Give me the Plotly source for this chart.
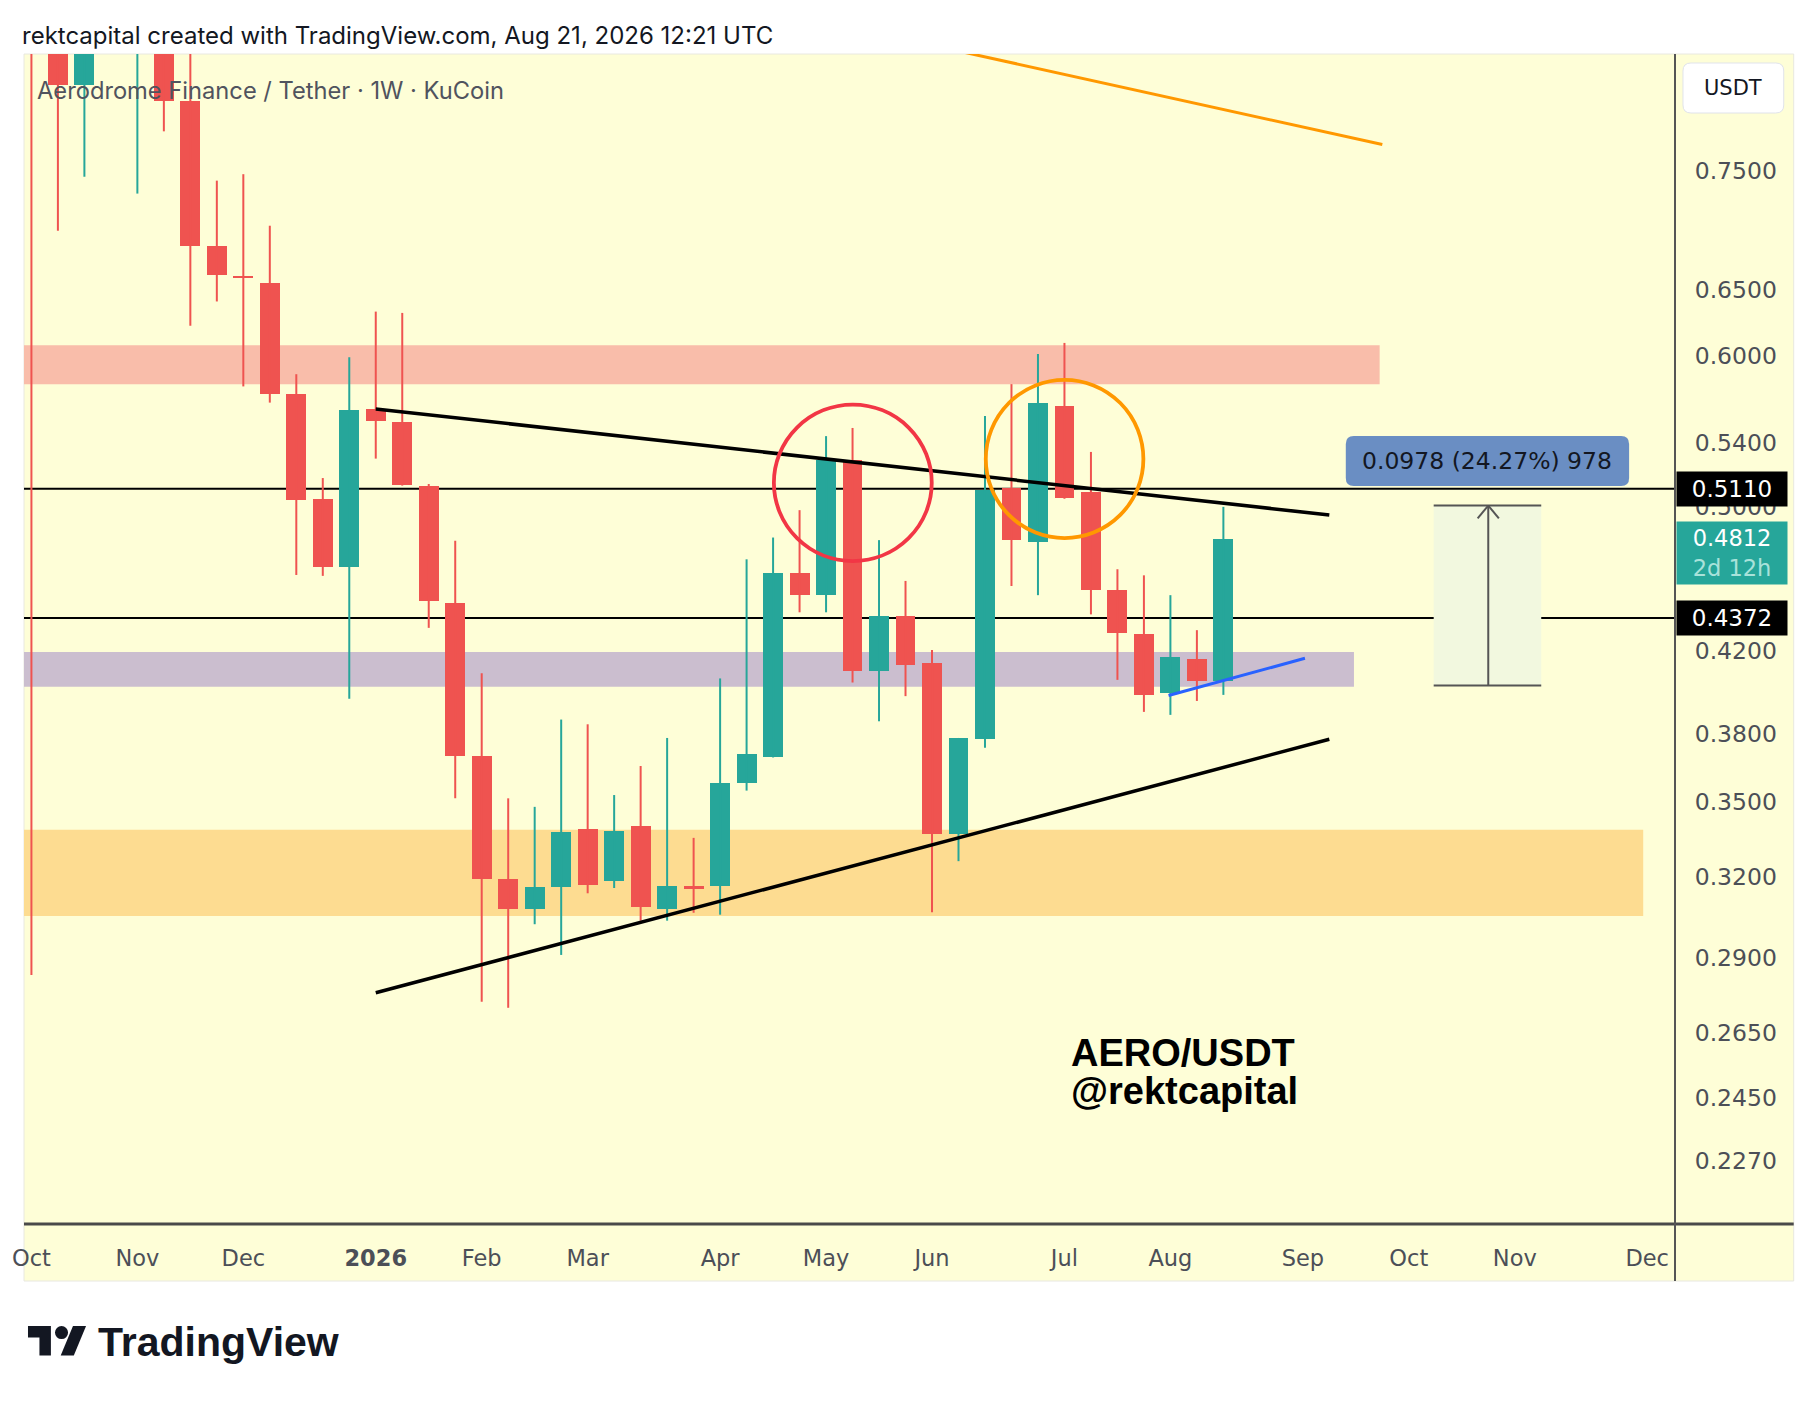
import plotly.graph_objects as go
import numpy as np
import pandas as pd

# ---------------- data ----------------
week_start = [
    "2025-10-06", "2025-10-13", "2025-10-20", "2025-10-27", "2025-11-03", "2025-11-10",
    "2025-11-17", "2025-11-24", "2025-12-01", "2025-12-08", "2025-12-15", "2025-12-22",
    "2025-12-29", "2026-01-05", "2026-01-12", "2026-01-19", "2026-01-26", "2026-02-02",
    "2026-02-09", "2026-02-16", "2026-02-23", "2026-03-02", "2026-03-09", "2026-03-16",
    "2026-03-23", "2026-03-30", "2026-04-06", "2026-04-13", "2026-04-20", "2026-04-27",
    "2026-05-04", "2026-05-11", "2026-05-18", "2026-05-25", "2026-06-01", "2026-06-08",
    "2026-06-15", "2026-06-22", "2026-06-29", "2026-07-06", "2026-07-13", "2026-07-20",
    "2026-07-27", "2026-08-03", "2026-08-10", "2026-08-17",
]
opens = [1.20, 1.02, 0.832, 0.92, 0.88, 0.92,
         0.816, 0.685, 0.661, 0.655, 0.573, 0.505,
         0.465, 0.563, 0.554, 0.513, 0.445, 0.370,
         0.319, 0.3077, 0.3157, 0.339, 0.318, 0.340,
         0.3075, 0.3161, 0.3161, 0.3582, 0.3694, 0.4615,
         0.4497, 0.5292, 0.4101, 0.4384, 0.4142, 0.3366,
         0.3779, 0.5116, 0.4792, 0.5648, 0.5089, 0.4520,
         0.4287, 0.3993, 0.4163, 0.4052]
highs = [1.32, 1.08, 0.98, 1.00, 0.95, 0.96,
         0.90, 0.7415, 0.7473, 0.7022, 0.5869, 0.5177,
         0.599, 0.633, 0.632, 0.514, 0.480, 0.409,
         0.3516, 0.348, 0.3867, 0.3845, 0.353, 0.3656,
         0.3782, 0.3352, 0.4064, 0.4693, 0.4818, 0.4980,
         0.5446, 0.5500, 0.4803, 0.4572, 0.4206, 0.3782,
         0.5580, 0.5799, 0.6014, 0.6095, 0.5343, 0.4637,
         0.4603, 0.4494, 0.4308, 0.5000]
lows = [0.284, 0.698, 0.745, 0.875, 0.730, 0.787,
        0.6222, 0.6408, 0.5783, 0.5671, 0.4605, 0.460,
        0.3966, 0.530, 0.513, 0.432, 0.3516, 0.275,
        0.273, 0.302, 0.291, 0.3135, 0.3155, 0.3033,
        0.3033, 0.3062, 0.3055, 0.3549, 0.3694, 0.4402,
        0.4402, 0.4044, 0.3859, 0.3978, 0.3064, 0.3259,
        0.3738, 0.4544, 0.4494, 0.5049, 0.4391, 0.4057,
        0.3903, 0.3889, 0.3955, 0.3984]
closes = [1.02, 0.832, 0.92, 0.90, 0.92, 0.816,
          0.6848, 0.6613, 0.6593, 0.5729, 0.5043, 0.4650,
          0.562, 0.5546, 0.5135, 0.446, 0.370, 0.319,
          0.3075, 0.316, 0.3377, 0.3166, 0.338, 0.3083,
          0.3161, 0.3150, 0.3582, 0.3709, 0.4615, 0.4497,
          0.5290, 0.4103, 0.4384, 0.4130, 0.3366, 0.3782,
          0.5104, 0.4803, 0.5668, 0.5052, 0.4520, 0.4292,
          0.3984, 0.4169, 0.4052, 0.4812]

month_tick_dates = ["2025-10-06", "2025-11-03", "2025-12-01", "2026-01-05", "2026-02-02",
                    "2026-03-02", "2026-04-06", "2026-05-04", "2026-06-01", "2026-07-06",
                    "2026-08-03", "2026-09-07", "2026-10-05", "2026-11-02", "2026-12-07"]
month_tick_labels = ["Oct", "Nov", "Dec", "<b>2026</b>", "Feb", "Mar", "Apr", "May", "Jun",
                     "Jul", "Aug", "Sep", "Oct", "Nov", "Dec"]
price_ticks = [0.75, 0.65, 0.60, 0.54, 0.50, 0.46, 0.42, 0.38, 0.35, 0.32, 0.29, 0.265, 0.245, 0.227]
price_tick_labels = ["%.4f" % v for v in price_ticks]

# drawings (weeks offset from 2026-01-05, price)
upper_trend_weeks = [0, 36]
upper_trend_prices = [0.5628, 0.4951]
lower_trend_weeks = [0, 36]
lower_trend_prices = [0.2780, 0.3776]
orange_trend_weeks = [18, 38]
orange_trend_prices = [0.892, 0.7746]
blue_trend_weeks = [29.93, 35.08]
blue_trend_prices = [0.3981, 0.4164]
level_lines = [0.5110, 0.4372]
pink_zone = [0.5799, 0.6077]
purple_zone = [0.4023, 0.4196]
orange_zone = [0.3050, 0.3385]
measure_low, measure_high = 0.4030, 0.5008
last_price = 0.4812

# ---------------- helpers ----------------
BASE = pd.Timestamp("2026-01-05")


def wk(k):
    return (BASE + pd.Timedelta(days=7 * k)).strftime("%Y-%m-%d %H:%M:%S")


W, H = 1814, 1402
L, R, T, B = 20, 1675, 54, 1224


def pxx(px):
    return (px - L) / (R - L)


def pxy(py):
    return (B - py) / (B - T)


def rrect(x0, y0, x1, y1, r):
    X = lambda v: "%.6f" % pxx(v)
    Y = lambda v: "%.6f" % pxy(v)
    return ("M %s,%s L %s,%s Q %s,%s %s,%s L %s,%s Q %s,%s %s,%s L %s,%s Q %s,%s %s,%s L %s,%s Q %s,%s %s,%s Z" % (
        X(x0 + r), Y(y0), X(x1 - r), Y(y0), X(x1), Y(y0), X(x1), Y(y0 + r),
        X(x1), Y(y1 - r), X(x1), Y(y1), X(x1 - r), Y(y1),
        X(x0 + r), Y(y1), X(x0), Y(y1), X(x0), Y(y1 - r),
        X(x0), Y(y0 + r), X(x0), Y(y0), X(x0 + r), Y(y0)))


UP, DOWN = "#26a69a", "#ef5350"
YELLOW = "#fefed7"
TXT = "#4c4f57"
AXFONT = "DejaVu Sans"

fig = go.Figure()

# wicks
for col, sel in ((UP, lambda o, c: c >= o), (DOWN, lambda o, c: c < o)):
    xs, ys = [], []
    for d, o, h, l, c in zip(week_start, opens, highs, lows, closes):
        if sel(o, c):
            xs += [d, d, None]
            ys += [l, h, None]
    fig.add_trace(go.Scatter(x=xs, y=ys, mode="lines", line=dict(color=col, width=2),
                             hoverinfo="skip"))

# bodies
body_base = [min(o, c) for o, c in zip(opens, closes)]
body_size = [max(abs(c - o), 0.0012) for o, c in zip(opens, closes)]
body_col = [UP if c >= o else DOWN for o, c in zip(opens, closes)]
fig.add_trace(go.Bar(x=week_start, y=body_size, base=body_base, marker_color=body_col,
                     marker_line_width=0, width=0.75 * 7 * 86400000, hoverinfo="skip"))

# trend lines
fig.add_trace(go.Scatter(x=[wk(k) for k in upper_trend_weeks], y=upper_trend_prices, mode="lines",
                         line=dict(color="#000000", width=3.5), hoverinfo="skip"))
fig.add_trace(go.Scatter(x=[wk(k) for k in lower_trend_weeks], y=lower_trend_prices, mode="lines",
                         line=dict(color="#000000", width=3.5), hoverinfo="skip"))
fig.add_trace(go.Scatter(x=[wk(k) for k in orange_trend_weeks], y=orange_trend_prices, mode="lines",
                         line=dict(color="#ff9800", width=3), hoverinfo="skip"))
fig.add_trace(go.Scatter(x=[wk(k) for k in blue_trend_weeks], y=blue_trend_prices, mode="lines",
                         line=dict(color="#2962ff", width=3), hoverinfo="skip"))

shapes = []
# panel background
shapes.append(dict(type="rect", xref="paper", yref="paper", x0=pxx(20), x1=pxx(1794),
                   y0=pxy(54), y1=pxy(1281), fillcolor=YELLOW, line=dict(color="#e8e8e0", width=1),
                   layer="below"))
# zones
shapes.append(dict(type="rect", xref="x", yref="y", x0=wk(-20), x1=wk(37.9), y0=pink_zone[0],
                   y1=pink_zone[1], fillcolor="#f9bdaa", line=dict(width=0), layer="below"))
shapes.append(dict(type="rect", xref="x", yref="y", x0=wk(-20), x1=wk(36.93), y0=purple_zone[0],
                   y1=purple_zone[1], fillcolor="#cbbecf", line=dict(width=0), layer="below"))
shapes.append(dict(type="rect", xref="x", yref="y", x0=wk(-20), x1=wk(47.85), y0=orange_zone[0],
                   y1=orange_zone[1], fillcolor="#fddc91", line=dict(width=0), layer="below"))
# horizontal levels
for lv in level_lines:
    shapes.append(dict(type="line", xref="paper", yref="y", x0=0, x1=1, y0=lv, y1=lv,
                       line=dict(color="#000000", width=2), layer="below"))
# circles
shapes.append(dict(type="circle", xref="x", yref="y", x0=wk(15.03), x1=wk(20.99), y0=0.4683,
                   y1=0.5657, line=dict(color="#f23645", width=3.8)))
shapes.append(dict(type="circle", xref="x", yref="y", x0=wk(23.03), x1=wk(28.98), y0=0.4815,
                   y1=0.5829, line=dict(color="#ff9800", width=3.8)))
# measure tool
shapes.append(dict(type="rect", xref="x", yref="y", x0=wk(39.94), x1=wk(44.0), y0=measure_low,
                   y1=measure_high, fillcolor="#f2f8df", line=dict(width=0), layer="below"))
for yv in (measure_low, measure_high):
    shapes.append(dict(type="line", xref="x", yref="y", x0=wk(39.94), x1=wk(44.0), y0=yv, y1=yv,
                       line=dict(color="#555555", width=2)))
shapes.append(dict(type="line", xref="x", yref="y", x0=wk(42), x1=wk(42), y0=measure_low,
                   y1=measure_high, line=dict(color="#555555", width=2)))
shapes.append(dict(type="line", xref="x", yref="y", x0=wk(41.6), x1=wk(42), y0=measure_high * 0.9845,
                   y1=measure_high, line=dict(color="#555555", width=2)))
shapes.append(dict(type="line", xref="x", yref="y", x0=wk(42.4), x1=wk(42), y0=measure_high * 0.9845,
                   y1=measure_high, line=dict(color="#555555", width=2)))
# axis lines
shapes.append(dict(type="line", xref="paper", yref="paper", x0=pxx(20), x1=pxx(1794), y0=pxy(1224),
                   y1=pxy(1224), line=dict(color="#4a4a4a", width=3)))
shapes.append(dict(type="line", xref="paper", yref="paper", x0=pxx(1675), x1=pxx(1675), y0=pxy(54),
                   y1=pxy(1281), line=dict(color="#555555", width=2)))
# label boxes
shapes.append(dict(type="path", xref="paper", yref="paper", path=rrect(1683, 63, 1784, 113, 8),
                   fillcolor="#ffffff", line=dict(color="#e0e3eb", width=1)))
shapes.append(dict(type="path", xref="paper", yref="paper", path=rrect(1345, 436, 1629, 486, 8),
                   fillcolor="#6a8ec3", line=dict(width=0)))
# TradingView logo
s = 1.64
lx = lambda X: "%.6f" % pxx(24 + s * X)
ly = lambda Y: "%.6f" % pxy(1326 + s * (Y - 4))
p1 = "M %s,%s L %s,%s L %s,%s L %s,%s L %s,%s L %s,%s Z" % (
    lx(14), ly(22), lx(7), ly(22), lx(7), ly(11), lx(0), ly(11), lx(0), ly(4), lx(14), ly(4))
p2 = "M %s,%s L %s,%s L %s,%s L %s,%s Z" % (
    lx(28), ly(22), lx(20), ly(22), lx(27.5), ly(4), lx(35.5), ly(4))
shapes.append(dict(type="path", xref="paper", yref="paper", path=p1, fillcolor="#131722", line=dict(width=0)))
shapes.append(dict(type="path", xref="paper", yref="paper", path=p2, fillcolor="#131722", line=dict(width=0)))
shapes.append(dict(type="circle", xref="paper", yref="paper", x0=pxx(24 + s * 16.5), x1=pxx(24 + s * 24.5),
                   y0=pxy(1326 + s * 0), y1=pxy(1326 + s * 8), fillcolor="#131722", line=dict(width=0)))

annotations = [
    dict(xref="paper", yref="paper", x=pxx(16), y=pxy(35), xanchor="left", yanchor="middle",
         text="rektcapital created with TradingView.com, Aug 21, 2026 12:21 UTC", showarrow=False,
         font=dict(family="Inter", size=24, color="#131722")),
    dict(xref="paper", yref="paper", x=pxx(31), y=pxy(90), xanchor="left", yanchor="middle",
         text="Aerodrome Finance / Tether · 1W · KuCoin", showarrow=False,
         font=dict(family="Inter", size=23.7, color="#50535e")),
    dict(xref="paper", yref="paper", x=pxx(1068), y=pxy(1053), xanchor="left", yanchor="middle",
         text="<b>AERO/USDT</b>", showarrow=False,
         font=dict(family="Liberation Sans", size=38, color="#000000")),
    dict(xref="paper", yref="paper", x=pxx(1068), y=pxy(1091), xanchor="left", yanchor="middle",
         text="<b>@rektcapital</b>", showarrow=False,
         font=dict(family="Liberation Sans", size=38, color="#000000")),
    dict(xref="paper", yref="paper", x=pxx(1733), y=pxy(88), xanchor="center", yanchor="middle",
         text="USDT", showarrow=False, font=dict(family=AXFONT, size=21, color="#131722")),
    dict(xref="paper", yref="paper", x=pxx(1487), y=pxy(461), xanchor="center", yanchor="middle",
         text="0.0978 (24.27%) 978", showarrow=False, font=dict(family=AXFONT, size=23.5, color="#131722")),
    dict(xref="paper", yref="paper", x=pxx(92), y=pxy(1342), xanchor="left", yanchor="middle",
         text="<b>TradingView</b>", showarrow=False,
         font=dict(family="Liberation Sans", size=41, color="#131722")),
]
# price labels on the axis
for lv in level_lines:
    annotations.append(dict(xref="paper", yref="y", x=pxx(1676), y=np.log10(lv), xanchor="left",
                            yanchor="middle", text="%.4f" % lv, showarrow=False, bgcolor="#000000",
                            width=104, height=28, borderpad=3,
                            font=dict(family=AXFONT, size=23, color="#ffffff")))
annotations.append(dict(xref="paper", yref="y", x=pxx(1676), y=np.log10(0.4729), xanchor="left",
                        yanchor="middle",
                        text="%.4f<br><span style='color:#a9e2da'>2d 12h</span>" % last_price,
                        showarrow=False, bgcolor=UP, width=104, height=56, borderpad=3,
                        font=dict(family=AXFONT, size=22.5, color="#ffffff")))

fig.update_layout(
    width=W, height=H,
    margin=dict(l=L, r=W - R, t=T, b=H - B, pad=0),
    paper_bgcolor="#ffffff", plot_bgcolor=YELLOW,
    showlegend=False, bargap=0,
    shapes=shapes, annotations=annotations,
    xaxis=dict(type="date", range=[wk(-13.28), wk(49.05)], tickvals=month_tick_dates,
               ticktext=month_tick_labels, ticks="outside", ticklen=14, tickcolor="rgba(0,0,0,0)",
               showgrid=False, zeroline=False, showline=False, fixedrange=True,
               tickfont=dict(family=AXFONT, size=22.5, color=TXT), rangeslider=dict(visible=False)),
    yaxis=dict(type="log", side="right", range=[-0.67727, -0.06345], tickvals=price_ticks,
               ticktext=price_tick_labels, ticks="outside", ticklen=14, tickcolor="rgba(0,0,0,0)",
               showgrid=False, zeroline=False, showline=False, fixedrange=True,
               tickfont=dict(family=AXFONT, size=23.5, color=TXT)),
)

fig.write_html("out.html", config={"displayModeBar": False},
               post_script="document.body.style.margin='0px';document.body.style.overflow='hidden';")
